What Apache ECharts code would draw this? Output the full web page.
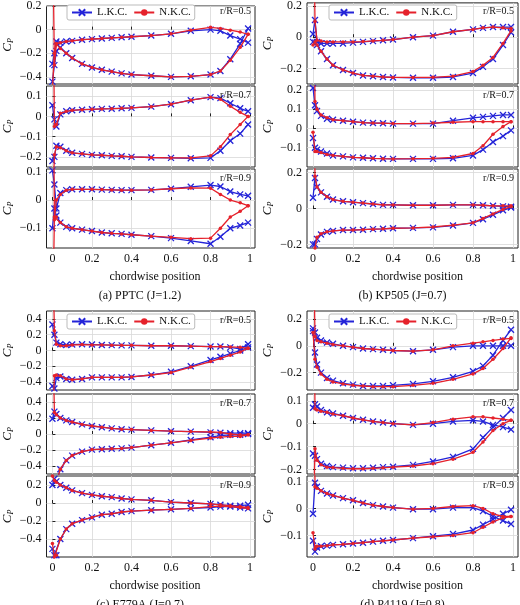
<!DOCTYPE html>
<html><head><meta charset="utf-8">
<script src="https://cdn.jsdelivr.net/npm/echarts@6/dist/echarts.min.js"></script>
<style>html,body{margin:0;padding:0;background:#fff}#c{width:520px;height:605px}</style>
</head><body><div id="c"></div>
<script>
const X = [0,0.01,0.02,0.04,0.07,0.1,0.15,0.2,0.25,0.3,0.35,0.4,0.5,0.6,0.7,0.8,0.85,0.9,0.95,0.99];
const xTicks = [0,0.2,0.4,0.6,0.8,1];
const xTickLabels = ['0','0.2','0.4','0.6','0.8','1'];
const captions = ['(a) PPTC (J=1.2)','(b) KP505 (J=0.7)','(c) E779A (J=0.7)','(d) P4119 (J=0.8)'];
const radii = ['r/R=0.5','r/R=0.7','r/R=0.9'];
const seriesNames = ['L.K.C.','N.K.C.'];

// (a) PPTC
const a1_LU=[-0.29,-0.2,-0.1,-0.11,-0.1,-0.095,-0.085,-0.08,-0.075,-0.07,-0.065,-0.06,-0.05,-0.035,-0.01,0.0,-0.01,-0.05,-0.08,-0.11];
const a1_LL=[-0.44,-0.3,-0.18,-0.15,-0.2,-0.24,-0.29,-0.32,-0.34,-0.355,-0.37,-0.38,-0.39,-0.4,-0.395,-0.38,-0.35,-0.25,-0.12,0.01];
const a1_NU=[1,-0.3,-0.12,-0.11,-0.1,-0.095,-0.085,-0.08,-0.075,-0.07,-0.065,-0.06,-0.05,-0.035,-0.005,0.02,0.01,-0.005,-0.02,-0.04];
const a1_NL=[-0.5,-0.2,-0.12,-0.16,-0.2,-0.24,-0.29,-0.32,-0.34,-0.355,-0.37,-0.38,-0.39,-0.4,-0.395,-0.38,-0.35,-0.26,-0.15,-0.04];
const a2_LU=[0.055,-0.015,-0.05,0.01,0.025,0.03,0.033,0.035,0.037,0.038,0.04,0.042,0.048,0.06,0.08,0.095,0.09,0.065,0.04,0.025];
const a2_LL=[-0.22,-0.2,-0.145,-0.15,-0.17,-0.18,-0.185,-0.19,-0.192,-0.195,-0.197,-0.2,-0.203,-0.205,-0.207,-0.205,-0.17,-0.12,-0.085,-0.04];
const a2_NU=[1,-0.05,-0.04,0.015,0.025,0.03,0.033,0.035,0.037,0.038,0.04,0.042,0.048,0.06,0.08,0.095,0.085,0.05,0.02,0.0];
const a2_NL=[-0.5,-0.19,-0.15,-0.155,-0.17,-0.18,-0.185,-0.19,-0.192,-0.195,-0.197,-0.2,-0.203,-0.205,-0.205,-0.195,-0.15,-0.09,-0.04,0.0];
const a3_LU=[0.105,0.055,-0.03,0.025,0.035,0.038,0.038,0.038,0.037,0.036,0.035,0.035,0.036,0.04,0.047,0.053,0.048,0.03,0.02,0.015];
const a3_LL=[-0.1,-0.03,-0.055,-0.08,-0.095,-0.1,-0.105,-0.11,-0.115,-0.118,-0.12,-0.123,-0.128,-0.135,-0.145,-0.155,-0.13,-0.1,-0.09,-0.08];
const a3_NU=[1,-0.07,0.0,0.02,0.035,0.038,0.038,0.038,0.037,0.036,0.035,0.035,0.036,0.04,0.043,0.042,0.02,0.0,-0.01,-0.02];
const a3_NL=[-0.5,-0.06,-0.06,-0.08,-0.095,-0.1,-0.105,-0.11,-0.115,-0.118,-0.12,-0.123,-0.128,-0.132,-0.137,-0.135,-0.1,-0.06,-0.04,-0.02];
// (b) KP505
const b1_LU=[0.02,0.11,-0.03,-0.04,-0.04,-0.04,-0.04,-0.035,-0.03,-0.025,-0.02,-0.015,0.0,0.01,0.035,0.05,0.06,0.065,0.065,0.065];
const b1_LL=[-0.03,-0.035,-0.05,-0.09,-0.14,-0.18,-0.21,-0.23,-0.245,-0.25,-0.255,-0.258,-0.26,-0.26,-0.255,-0.23,-0.19,-0.14,-0.05,0.03];
const b1_NU=[1,0.1,-0.02,-0.025,-0.03,-0.03,-0.03,-0.03,-0.028,-0.024,-0.02,-0.015,0.0,0.01,0.035,0.05,0.06,0.065,0.06,0.055];
const b1_NL=[-0.05,-0.03,-0.05,-0.09,-0.14,-0.18,-0.21,-0.23,-0.245,-0.25,-0.255,-0.258,-0.258,-0.257,-0.25,-0.22,-0.18,-0.13,-0.04,0.04];
const b2_LU=[0.21,0.12,0.09,0.065,0.05,0.045,0.04,0.035,0.03,0.028,0.027,0.025,0.025,0.025,0.04,0.055,0.06,0.065,0.07,0.07];
const b2_LL=[-0.05,-0.1,-0.11,-0.12,-0.13,-0.14,-0.145,-0.15,-0.152,-0.155,-0.157,-0.158,-0.158,-0.158,-0.155,-0.14,-0.11,-0.07,-0.04,-0.01];
const b2_NU=[1,0.14,0.1,0.07,0.055,0.045,0.04,0.035,0.03,0.028,0.027,0.025,0.025,0.028,0.032,0.035,0.035,0.035,0.035,0.035];
const b2_NL=[-0.02,-0.12,-0.12,-0.125,-0.135,-0.14,-0.145,-0.15,-0.152,-0.155,-0.157,-0.158,-0.157,-0.155,-0.15,-0.13,-0.09,-0.03,0.01,0.035];
const b3_LU=[0.06,0.17,0.12,0.09,0.065,0.05,0.04,0.035,0.03,0.025,0.02,0.02,0.018,0.018,0.02,0.02,0.018,0.015,0.012,0.01];
const b3_LL=[-0.2,-0.2,-0.17,-0.145,-0.13,-0.125,-0.12,-0.12,-0.118,-0.115,-0.113,-0.11,-0.108,-0.105,-0.095,-0.08,-0.06,-0.035,-0.01,0.005];
const b3_NU=[1,0.18,0.12,0.09,0.065,0.05,0.04,0.035,0.03,0.025,0.02,0.02,0.018,0.018,0.02,0.02,0.018,0.015,0.015,0.015];
const b3_NL=[-1,-0.22,-0.16,-0.14,-0.13,-0.125,-0.12,-0.12,-0.118,-0.115,-0.113,-0.11,-0.108,-0.103,-0.093,-0.08,-0.055,-0.03,-0.005,0.01];
// (c) E779A
const c1_LU=[0.33,0.2,0.1,0.08,0.07,0.075,0.08,0.075,0.07,0.068,0.065,0.065,0.06,0.06,0.055,0.05,0.05,0.04,0.02,0.08];
const c1_LL=[-0.45,-0.48,-0.35,-0.33,-0.36,-0.37,-0.36,-0.34,-0.34,-0.34,-0.34,-0.335,-0.31,-0.27,-0.2,-0.12,-0.08,-0.04,0.0,0.04];
const c1_NU=[1.5,0.25,0.08,0.06,0.06,0.07,0.075,0.07,0.07,0.068,0.065,0.065,0.06,0.06,0.055,0.05,0.05,0.045,0.04,0.03];
const c1_NL=[-1,-0.32,-0.31,-0.32,-0.36,-0.37,-0.36,-0.34,-0.34,-0.34,-0.34,-0.335,-0.31,-0.28,-0.21,-0.14,-0.1,-0.06,-0.02,0.03];
const c2_LU=[0.19,0.28,0.25,0.2,0.17,0.15,0.12,0.1,0.085,0.07,0.06,0.055,0.045,0.035,0.03,0.02,0.015,0.01,0.01,0.01];
const c2_LL=[-1,-1,-0.6,-0.44,-0.33,-0.27,-0.22,-0.195,-0.19,-0.185,-0.18,-0.17,-0.14,-0.11,-0.075,-0.04,-0.02,-0.01,-0.01,0.0];
const c2_NU=[1.5,0.27,0.24,0.2,0.17,0.15,0.12,0.1,0.085,0.07,0.06,0.055,0.045,0.035,0.03,0.025,0.02,0.0,-0.01,-0.01];
const c2_NL=[-1,-1,-0.6,-0.44,-0.33,-0.27,-0.22,-0.195,-0.19,-0.185,-0.18,-0.17,-0.14,-0.11,-0.08,-0.05,-0.04,-0.03,-0.03,-0.01];
const c3_LU=[0.2,0.27,0.24,0.2,0.17,0.14,0.11,0.09,0.075,0.065,0.05,0.04,0.03,0.01,0.0,-0.01,-0.02,-0.03,-0.03,-0.02];
const c3_LL=[-0.51,-0.58,-0.58,-0.4,-0.29,-0.23,-0.19,-0.16,-0.13,-0.12,-0.1,-0.09,-0.08,-0.07,-0.06,-0.05,-0.04,-0.04,-0.05,-0.06];
const c3_NU=[0.3,0.25,0.23,0.2,0.17,0.14,0.11,0.09,0.075,0.065,0.05,0.04,0.03,0.01,0.0,-0.01,-0.02,-0.03,-0.04,-0.05];
const c3_NL=[-0.45,-0.6,-0.58,-0.4,-0.29,-0.23,-0.19,-0.16,-0.13,-0.12,-0.1,-0.09,-0.08,-0.07,-0.06,-0.04,-0.035,-0.04,-0.05,-0.06];
// (d) P4119
const d1_LU=[0.13,0.1,0.06,0.04,0.025,0.015,0.0,-0.01,-0.02,-0.025,-0.03,-0.035,-0.04,-0.03,-0.01,0.0,0.0,0.0,0.0,0.0];
const d1_LL=[0.11,-0.05,-0.14,-0.2,-0.24,-0.26,-0.28,-0.29,-0.3,-0.3,-0.3,-0.295,-0.285,-0.265,-0.235,-0.19,-0.15,-0.07,0.04,0.12];
const d1_NU=[1,0.07,0.04,0.03,0.02,0.01,0.0,-0.01,-0.02,-0.025,-0.03,-0.035,-0.04,-0.03,0.0,0.02,0.03,0.04,0.05,0.055];
const d1_NL=[0.1,-0.1,-0.16,-0.21,-0.25,-0.27,-0.285,-0.295,-0.3,-0.305,-0.305,-0.305,-0.295,-0.28,-0.25,-0.21,-0.17,-0.1,-0.02,0.06];
const d2_LU=[0.07,0.085,0.075,0.06,0.05,0.045,0.035,0.025,0.017,0.01,0.005,0.0,-0.005,0.0,0.01,0.015,0.01,-0.005,-0.015,-0.025];
const d2_LL=[-0.13,-0.14,-0.155,-0.175,-0.185,-0.19,-0.192,-0.195,-0.195,-0.193,-0.19,-0.188,-0.18,-0.165,-0.145,-0.11,-0.06,-0.015,0.025,0.06];
const d2_NU=[1,0.065,0.06,0.055,0.05,0.042,0.035,0.025,0.017,0.01,0.005,0.0,-0.005,0.005,0.02,0.03,0.03,0.025,0.02,0.015];
const d2_NL=[-0.5,-0.11,-0.16,-0.18,-0.19,-0.192,-0.195,-0.197,-0.197,-0.195,-0.193,-0.19,-0.185,-0.175,-0.155,-0.125,-0.08,-0.03,0.0,0.015];
const d3_LU=[-0.02,0.095,0.08,0.065,0.055,0.048,0.038,0.03,0.02,0.012,0.007,0.003,-0.003,-0.003,0.003,0.003,-0.01,-0.03,-0.045,-0.058];
const d3_LL=[-0.12,-0.16,-0.145,-0.14,-0.138,-0.135,-0.133,-0.13,-0.127,-0.123,-0.12,-0.117,-0.11,-0.103,-0.095,-0.08,-0.06,-0.04,-0.02,-0.005];
const d3_NU=[1,0.08,0.075,0.065,0.055,0.048,0.038,0.03,0.02,0.012,0.007,0.003,-0.003,0.0,0.007,0.01,0.0,-0.02,-0.03,-0.03];
const d3_NL=[-0.09,-0.15,-0.14,-0.14,-0.138,-0.135,-0.133,-0.13,-0.127,-0.123,-0.12,-0.117,-0.11,-0.105,-0.1,-0.09,-0.07,-0.05,-0.035,-0.03];

const subplots = [
 [[a1_LU,a1_LL,a1_NU,a1_NL],[a2_LU,a2_LL,a2_NU,a2_NL],[a3_LU,a3_LL,a3_NU,a3_NL]],
 [[b1_LU,b1_LL,b1_NU,b1_NL],[b2_LU,b2_LL,b2_NU,b2_NL],[b3_LU,b3_LL,b3_NU,b3_NL]],
 [[c1_LU,c1_LL,c1_NU,c1_NL],[c2_LU,c2_LL,c2_NU,c2_NL],[c3_LU,c3_LL,c3_NU,c3_NL]],
 [[d1_LU,d1_LL,d1_NU,d1_NL],[d2_LU,d2_LL,d2_NU,d2_NL],[d3_LU,d3_LL,d3_NU,d3_NL]]
];
const yRanges = [
 [[-0.46,0.2],[-0.25,0.15],[-0.17,0.11]],
 [[-0.3,0.22],[-0.2,0.22],[-0.22,0.22]],
 [[-0.5,0.5],[-0.5,0.5],[-0.6,0.3]],
 [[-0.33,0.26],[-0.22,0.13],[-0.18,0.12]]
];
const yTicks = [
 [[-0.4,-0.2,0,0.2],[-0.2,-0.1,0,0.1],[-0.1,0,0.1]],
 [[-0.2,0,0.2],[-0.1,0,0.1,0.2],[-0.2,0,0.2]],
 [[-0.4,-0.2,0,0.2,0.4],[-0.4,-0.2,0,0.2,0.4],[-0.4,-0.2,0,0.2]],
 [[-0.2,0,0.2],[-0.2,-0.1,0,0.1],[-0.1,0,0.1]]
];

const FONT = 'Liberation Serif';
const BLUE = '#2424d8', RED = '#e5212b';
const colLeft = [45, 307], colW = [210, 211];
const rowTops = [[2,86,169],[311,394,476]], rowH = [[82,81,79],[79,80,81]];
const grids=[], xAxes=[], yAxes=[], series=[], titles=[], legends=[];
const fmt = v => v===0 ? '0' : (v<0 ? '\u2212'+String(-v) : String(v));
let gi=0;
for (let p=0;p<4;p++){
  const col=p%2, row=Math.floor(p/2);
  for (let s=0;s<3;s++){
    const top=rowTops[row][s], h=rowH[row][s];
    grids.push({left:colLeft[col],top:top,width:colW[col],height:h,show:true,borderColor:'#222',borderWidth:1,backgroundColor:'#fff'});
    xAxes.push({type:'value',gridIndex:gi,min:-0.03,max:1.025,
      axisLine:{show:false},
      axisTick:{show:true,inside:true,length:3,customValues:xTicks,lineStyle:{color:'#222'}},
      axisLabel:{show:s===2,customValues:xTicks,formatter:v=>xTickLabels[xTicks.indexOf(Math.round(v*10)/10)]??'',color:'#111',fontFamily:FONT,fontSize:12,margin:5},
      splitLine:{show:true,lineStyle:{color:'#d8d8d8',width:0.8}}
    });
    const yr=yRanges[p][s];
    yAxes.push({type:'value',gridIndex:gi,min:yr[0],max:yr[1],
      axisLine:{show:false},
      axisTick:{show:true,inside:true,length:3,customValues:yTicks[p][s],lineStyle:{color:'#222'}},
      axisLabel:{customValues:yTicks[p][s],formatter:v=>fmt(Math.round(v*10)/10),color:'#111',fontFamily:FONT,fontSize:12,margin:5},
      splitLine:{show:true,lineStyle:{color:'#d8d8d8',width:0.8}},
      name:'{i|C}{s|P}',nameLocation:'middle',nameRotate:90,nameGap:32,
      nameTextStyle:{rich:{i:{fontFamily:FONT,fontStyle:'italic',fontSize:13,color:'#111'},s:{fontFamily:FONT,fontStyle:'italic',fontSize:8,color:'#111',verticalAlign:'bottom',padding:[6,0,0,0]}}}
    });
    const d=subplots[p][s];
    const mk=arr=>X.map((x,i)=>[x,arr[i]]);
    const blueStyle={type:'line',xAxisIndex:gi,yAxisIndex:gi,name:seriesNames[0],
      symbol:'path://M0,0L10,10M10,0L0,10',symbolSize:6,showSymbol:true,
      itemStyle:{color:BLUE,borderColor:BLUE,borderWidth:1.3},lineStyle:{color:BLUE,width:1.3},clip:true,animation:false,z:2};
    const redStyle={type:'line',xAxisIndex:gi,yAxisIndex:gi,name:seriesNames[1],
      symbol:'circle',symbolSize:3.5,showSymbol:true,
      itemStyle:{color:RED},lineStyle:{color:RED,width:1.3},clip:true,animation:false,z:3};
    series.push(Object.assign({},blueStyle,{data:mk(d[0])}));
    series.push(Object.assign({},blueStyle,{data:mk(d[1])}));
    series.push(Object.assign({},redStyle,{data:mk(d[2])}));
    series.push(Object.assign({},redStyle,{data:mk(d[3])}));
    titles.push({text:radii[s],right:520-(colLeft[col]+colW[col])+4,top:top+4,padding:0,
      textStyle:{fontFamily:FONT,fontSize:10,fontWeight:'normal',color:'#111'}});
    gi++;
  }
  const cx=colLeft[col]+colW[col]/2;
  const bottomEdge=rowTops[row][2]+rowH[row][2];
  titles.push({text:'chordwise position',left:cx,top:bottomEdge+18,textAlign:'center',textStyle:{fontFamily:FONT,fontSize:12,fontWeight:'normal',color:'#111'}});
  titles.push({text:captions[p],left:cx-15,top:bottomEdge+37,textAlign:'center',textStyle:{fontFamily:FONT,fontSize:12,fontWeight:'normal',color:'#111'}});
  legends.push({data:seriesNames,left:colLeft[col]+22,top:rowTops[row][0]+3,orient:'horizontal',
    backgroundColor:'#fff',borderColor:'#bbb',borderWidth:1,borderRadius:2,padding:[2,4],itemGap:6,itemWidth:20,itemHeight:8,
    textStyle:{fontFamily:FONT,fontSize:11,color:'#111'}});
}
const chart=echarts.init(document.getElementById('c'),null,{renderer:'canvas'});
chart.setOption({animation:false,grid:grids,xAxis:xAxes,yAxis:yAxes,series:series,title:titles,legend:legends});
</script></body></html>
